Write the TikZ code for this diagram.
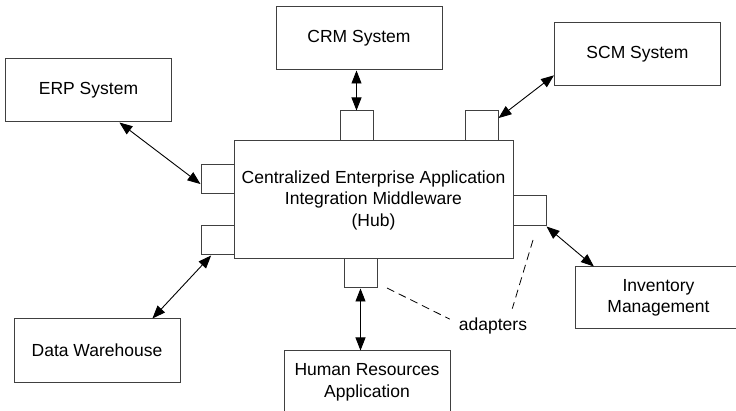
\documentclass[tikz,border=0pt]{standalone}
\usepackage{fontspec}
\setmainfont{Liberation Sans}
\usetikzlibrary{arrows.meta}

\begin{document}
\begin{tikzpicture}[x=1pt, y=-1pt,
  sysbox/.style={draw=black!75, line width=1pt, minimum width=166pt, minimum height=63pt,
                 align=center, inner sep=0pt, font=\fontsize{17.5}{21.5}\selectfont},
  adbox/.style={draw=black!75, line width=1pt, minimum width=33pt, minimum height=30pt, inner sep=0pt},
  link/.style={{Triangle[length=13pt,width=10pt]}-{Triangle[length=13pt,width=10pt]}, line width=0.9pt},
  note/.style={dash pattern=on 8pt off 5pt, line width=0.8pt}]
%
         \clip (0,0) rectangle (736,411);

         \node [sysbox, minimum width=279pt, minimum height=118pt] (Hub) at (373.5,200)
               {Centralized Enterprise Application\\Integration Middleware\\(Hub)};

         \node [sysbox] (CRM) at (359,38.5)   {CRM System};
         \node [sysbox] (SCM) at (637.5,54.5) {SCM System};
         \node [sysbox] (ERP) at (88.5,90.5)  {ERP System};
         \node [sysbox] (DW)  at (97,350.5)   {Data Warehouse};
         \node [sysbox] (HR)  at (367,382.5)  {Human Resources\\Application};
         \node [sysbox, minimum height=62pt] (Inv) at (658.5,298) {Inventory\\Management};

         \node [adbox] (a1) at (356.5,126)   {};
         \node [adbox] (a2) at (481.5,126)   {};
         \node [adbox, minimum height=29pt] (a3) at (217.5,179.5) {};
         \node [adbox, minimum height=29pt] (a4) at (217.5,240.5) {};
         \node [adbox] (a5) at (529.5,211)   {};
         \node [adbox, minimum height=29pt] (a6) at (360.5,273.5) {};

         \draw [link] (CRM.south -| a1) -- (a1.north);
         \draw [link] (a2.25) -- (SCM.194);
         \draw [link] (ERP.314) -- (a3.195);
         \draw [link] (a4.247) -- (DW.30);
         \draw [link] (a6.south) -- (a6.south |- HR.north);
         \draw [link] (a5.south east) -- (Inv.154);

         \node [inner sep=9pt, font=\fontsize{17.5}{21.5}\selectfont] (lbl) at (493,326) {adapters};
         \coordinate (d1) at (387,288);
         \coordinate (d2) at (533,240);
         \draw [note] (d1) -- (lbl.171);
         \draw [note] (d2) -- (lbl.42);

\end{tikzpicture}
\end{document}
